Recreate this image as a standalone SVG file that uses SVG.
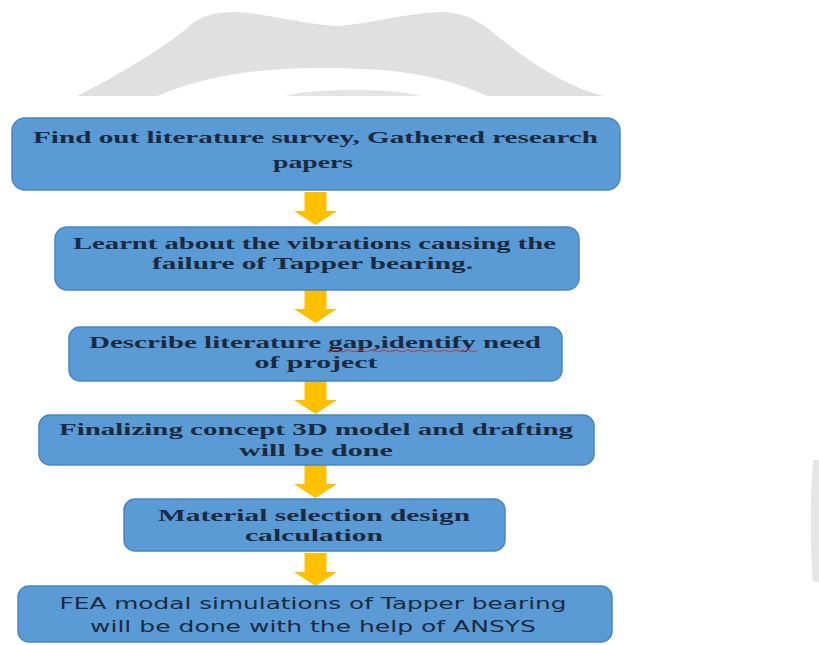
<svg xmlns="http://www.w3.org/2000/svg" width="819" height="645" viewBox="0 0 819 645">
<style>
.box{fill:#5B9BD5;stroke:#4A87C2;stroke-width:1.5}
.t{font-family:"Liberation Serif",serif;font-weight:bold;font-size:17px;fill:#1B2A3E;text-anchor:middle}
.s{font-family:"DejaVu Sans","Liberation Sans",sans-serif;font-size:15px;fill:#1B2A3E;text-anchor:middle}
.arrow{fill:#FFC000}
</style>
<defs>
<path id="arr" d="M-11,0 H11 V19 H21.5 L0,33 L-21.5,19 H-11 Z"/>
</defs>
<rect width="819" height="645" fill="#fff"/>
<g id="watermark">
<path d="M77,96 C110,80 160,50 185,30 C200,15 215,12 235,12 C270,14 300,24 336,26 C370,24 400,14 440,12 C460,12 475,18 490,30 C520,55 560,85 604,96 Z" fill="#e0e0e0"/>
<path d="M157,96 C200,78 250,68 320,68 C390,68 440,74 487,96 Z" fill="#fff"/>
<path d="M285,96 C310,88 400,88 420,96 Z" fill="#e4e4e4"/>
<path d="M813,460 C810,500 810,550 813,582 H819 V460 Z" fill="#e6e6e6"/>
</g>
<rect x="0" y="96" width="628" height="549" fill="#fff"/>
<g id="connectors">
<use href="#arr" class="arrow" x="315.5" y="192"/>
<use href="#arr" class="arrow" x="315.5" y="290"/>
<use href="#arr" class="arrow" x="315.5" y="381"/>
<use href="#arr" class="arrow" x="315.5" y="465"/>
<use href="#arr" class="arrow" x="315.5" y="553"/>
</g>
<g id="n1">
<rect class="box" x="12" y="118" width="608" height="72" rx="13"/>
<text class="t" x="315.5" y="143" textLength="565" lengthAdjust="spacingAndGlyphs">Find out literature survey, Gathered research</text>
<text class="t" x="313" y="168" textLength="80" lengthAdjust="spacingAndGlyphs">papers</text>
</g>
<g id="n2">
<rect class="box" x="55" y="227" width="524" height="63" rx="12"/>
<text class="t" x="314.5" y="249" textLength="483" lengthAdjust="spacingAndGlyphs">Learnt about the vibrations causing the</text>
<text class="t" x="312.5" y="269" textLength="321" lengthAdjust="spacingAndGlyphs">failure of Tapper bearing.</text>
</g>
<g id="n3">
<rect class="box" x="69" y="327" width="493" height="54" rx="11"/>
<text class="t" x="315" y="348" textLength="452" lengthAdjust="spacingAndGlyphs">Describe literature gap,identify need</text>
<path d="M327,351 q3,2 6,0 t6,0 t6,0 t6,0 t6,0 t6,0 t6,0 t6,0 t6,0 t6,0 t6,0 t6,0 t6,0 t6,0 t6,0 t6,0 t6,0 t6,0 t6,0 t6,0 t6,0 t6,0 t6,0 t6,0 t6,0" fill="none" stroke="#d03030" stroke-width="1"/>
<text class="t" x="316" y="368" textLength="123" lengthAdjust="spacingAndGlyphs">of project</text>
</g>
<g id="n4">
<rect class="box" x="39" y="415" width="555" height="50" rx="11"/>
<text class="t" x="316" y="435" textLength="514" lengthAdjust="spacingAndGlyphs">Finalizing concept 3D model and drafting</text>
<text class="t" x="316" y="456" textLength="154" lengthAdjust="spacingAndGlyphs">will be done</text>
</g>
<g id="n5">
<rect class="box" x="124" y="499" width="381" height="52" rx="11"/>
<text class="t" x="314" y="521" textLength="312" lengthAdjust="spacingAndGlyphs">Material selection design</text>
<text class="t" x="314" y="541" textLength="138" lengthAdjust="spacingAndGlyphs">calculation</text>
</g>
<g id="n6">
<rect class="box" x="18" y="586" width="594" height="56" rx="11"/>
<text class="s" x="313" y="609" textLength="507" lengthAdjust="spacingAndGlyphs">FEA modal simulations of Tapper bearing</text>
<text class="s" x="313" y="632" textLength="446" lengthAdjust="spacingAndGlyphs">will be done with the help of ANSYS</text>
</g>
</svg>
